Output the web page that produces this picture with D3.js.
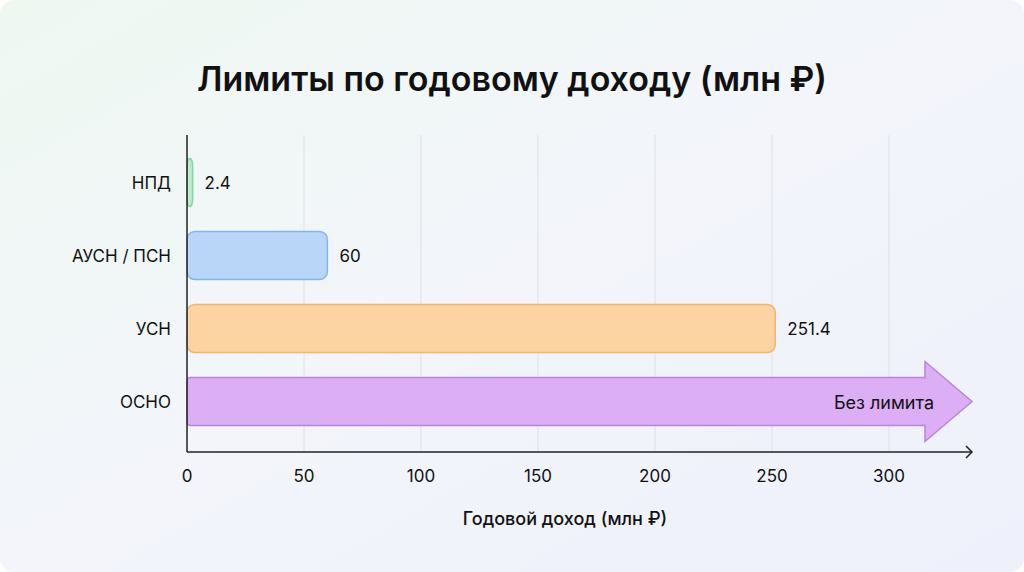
<!DOCTYPE html><html><head><meta charset="utf-8"><script src="https://cdn.jsdelivr.net/npm/d3@7"></script>
<style>body{margin:0}svg{display:block;font-family:Inter,"Noto Sans",sans-serif}</style></head><body><svg width="1024" height="572"></svg>
<script>
const categories=["НПД","АУСН / ПСН","УСН","ОСНО"];
const values=[2.4,60,251.4,null];
const labels=["2.4","60","251.4","Без лимита"];
const ticks=[0,50,100,150,200,250,300];
const fills=["#bdebcb","#b9d6f8","#fcd4a2","#dcaef5"];
const strokes=["#85d3a0","#84b3ee","#f4b566","#bb82e2"];
const svg=d3.select("svg");
const defs=svg.append("defs");
const g=defs.append("linearGradient").attr("id","bg").attr("x1",0).attr("y1",0).attr("x2",1).attr("y2",1);
g.append("stop").attr("offset",0).attr("stop-color","#eef8f1");
g.append("stop").attr("offset",0.5).attr("stop-color","#f3f5fb");
g.append("stop").attr("offset",1).attr("stop-color","#eef0fb");
svg.append("rect").attr("width",1024).attr("height",572).attr("rx",14).attr("fill","url(#bg)");
const x=d3.scaleLinear().domain([0,300]).range([187,889]);
const y=d3.scaleBand().domain(categories).range([146,438]).paddingInner(0.34).paddingOuter(0.17);
svg.append("text").attr("x",512).attr("y",91).attr("text-anchor","middle").attr("font-size",34).attr("font-weight",600).attr("fill","#111").text("Лимиты по годовому доходу (млн ₽)");
svg.selectAll(".grid").data(ticks.slice(1)).join("line").attr("x1",d=>x(d)).attr("x2",d=>x(d)).attr("y1",135).attr("y2",452).attr("stroke","#dde0e6").attr("stroke-width",1);
const xEnd=972;
categories.forEach((c,i)=>{
  const y0=y(c),h=y.bandwidth();
  if(values[i]!=null){
    svg.append("rect").attr("x",x(0)).attr("y",y0).attr("width",x(values[i])-x(0)).attr("height",h).attr("rx",8)
      .attr("fill",fills[i]).attr("stroke",strokes[i]).attr("stroke-width",1.5);
    svg.append("text").attr("x",x(values[i])+12).attr("y",y0+h/2+6).attr("font-size",17).attr("fill","#111").text(labels[i]);
  } else {
    const hx=925,cy=y0+h/2,hh=40;
    const p=`M${x(0)+4},${y0} L${hx},${y0} L${hx},${cy-hh} L${xEnd},${cy} L${hx},${cy+hh} L${hx},${y0+h} L${x(0)+4},${y0+h} Q${x(0)},${y0+h} ${x(0)},${y0+h-4} L${x(0)},${y0+4} Q${x(0)},${y0} ${x(0)+4},${y0} Z`;
    svg.append("path").attr("d",p).attr("fill",fills[i]).attr("stroke",strokes[i]).attr("stroke-width",1.5);
    svg.append("text").attr("x",934).attr("y",cy+7).attr("text-anchor","end").attr("font-size",18).attr("fill","#111").text(labels[i]);
  }
  svg.append("text").attr("x",171).attr("y",y0+h/2+6).attr("text-anchor","end").attr("font-size",17).attr("fill","#111").text(c);
});
svg.append("line").attr("x1",187).attr("x2",187).attr("y1",135).attr("y2",452).attr("stroke","#222").attr("stroke-width",1.5);
svg.append("line").attr("x1",187).attr("x2",972).attr("y1",452).attr("y2",452).attr("stroke","#222").attr("stroke-width",1.5);
svg.append("path").attr("d","M966,446 L972,452 L966,458").attr("fill","none").attr("stroke","#222").attr("stroke-width",1.5);
svg.selectAll(".tk").data(ticks).join("text").attr("x",d=>x(d)).attr("y",482).attr("text-anchor","middle").attr("font-size",17).attr("fill","#111").text(d=>d);
svg.append("text").attr("x",565).attr("y",525).attr("text-anchor","middle").attr("font-size",18).attr("font-weight",500).attr("fill","#111").text("Годовой доход (млн ₽)");
</script></body></html>
